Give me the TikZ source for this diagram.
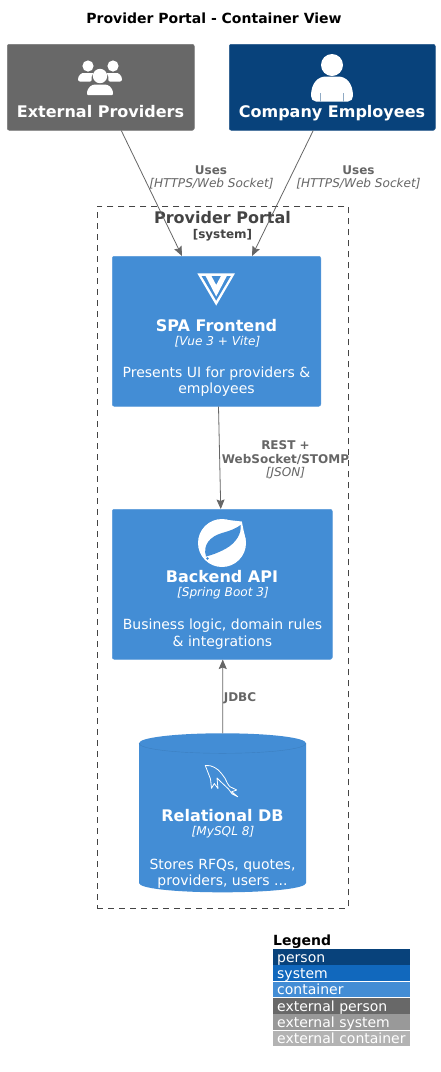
\documentclass[tikz,border=0pt]{standalone}
\usepackage{fontspec}
\setmainfont{DejaVu Sans}
\usetikzlibrary{arrows.meta}
\definecolor{personc}{HTML}{08427B}
\definecolor{systemc}{HTML}{1168BD}
\definecolor{containerc}{HTML}{438DD5}
\definecolor{extpersonc}{HTML}{686868}
\definecolor{extsystemc}{HTML}{999999}
\definecolor{extcontainerc}{HTML}{B3B3B3}
\definecolor{linec}{HTML}{666666}
\definecolor{boundc}{HTML}{444444}
\newcommand{\fs}[1]{\fontsize{#1}{#1}\selectfont}
\tikzset{
  txt/.style={inner sep=0pt,anchor=base,align=center},
  boxname/.style={txt,text=white,font=\fs{16}\bfseries},
  boxtech/.style={txt,text=white,font=\fs{12.1}\itshape},
  boxdesc/.style={txt,text=white,font=\fs{14}},
  linklabel/.style={txt,text=linec,font=\fs{12}\bfseries},
  linktech/.style={txt,text=linec,font=\fs{12.1}\itshape},
  card/.style={draw=#1!88!white,fill=#1,rounded corners=2pt,line width=0.5pt,inner sep=0pt,anchor=north west},
  link/.style={draw=linec,line width=0.8pt,-{Stealth[length=9.5pt,width=8pt,inset=1.5pt]}},
  legrow/.style={fill=#1,inner sep=0pt,anchor=north west,minimum width=137pt,minimum height=15.6pt},
  legtext/.style={inner sep=0pt,anchor=base west,text=white,font=\fs{14}},
}
\begin{document}
\begin{tikzpicture}[x=1pt,y=-1pt]
\useasboundingbox (0,0) rectangle (440,1072);
\fill[white] (0,0) rectangle (440,1072);

% title
\node[txt,font=\fs{14}\bfseries] (title) at (214,23) {Provider Portal - Container View};

% boundary
\node[draw=boundc,dash pattern=on 6pt off 5pt,line width=0.7pt,inner sep=0pt,anchor=north west,minimum width=251pt,minimum height=702pt] (portal) at (97,206) {};
\node[txt,text=boundc,font=\fs{16}\bfseries] (portaln) at (222.5,223) {Provider Portal};
\node[txt,text=boundc,font=\fs{12}\bfseries] (portalt) at (222.5,238) {[system]};

% persons
\node[card=extpersonc,minimum width=187pt,minimum height=86pt] (ext) at (7,44) {};
\node[card=personc,minimum width=206pt,minimum height=86pt] (emp) at (229,44) {};
\node[boxname] (extn) at (100.5,117) {External Providers};
\node[boxname] (empn) at (332,117) {Company Employees};

% group icon
\fill[white] (88,66) circle (5.6) (113,66) circle (5.6) (100,76) circle (7.2);
\fill[white,rounded corners=2pt] (78,81.5) .. controls (78,75) and (82,73) .. (85,73) -- (91,73) .. controls (92.5,73) and (92.8,74) .. (92.3,75) .. controls (91.5,77) and (91.5,79) .. (92,81.5) -- cycle;
\fill[white,rounded corners=2pt] (122,81.5) .. controls (122,75) and (118,73) .. (115,73) -- (109,73) .. controls (107.5,73) and (107.2,74) .. (107.7,75) .. controls (108.5,77) and (108.5,79) .. (108,81.5) -- cycle;
\fill[white,rounded corners=1pt] (87,95) .. controls (87,87) and (92,84.5) .. (96,84.5) -- (104,84.5) .. controls (108,84.5) and (113,87) .. (113,95) -- cycle;

% person icon
\fill[white] (332,65) circle (11);
\fill[white] (311,96) .. controls (311,83) and (318,76.5) .. (326,76.5) -- (338,76.5) .. controls (346,76.5) and (353,83) .. (353,96) .. controls (353,99) and (351,101.5) .. (348,101.5) -- (316,101.5) .. controls (313,101.5) and (311,99) .. (311,96) -- cycle;
\draw[personc!45!white,line width=0.6pt] (320.5,93) -- (320.5,101.5) (343,93) -- (343,101.5);

% containers
\node[card=containerc,minimum width=208.5pt,minimum height=150pt] (spa) at (112,256) {};
\node[card=containerc,minimum width=220pt,minimum height=150pt] (api) at (112,509) {};

% vue icon
\fill[white] (197.3,273.3) -- (235,273.3) -- (216.2,305.6) -- cycle;
\fill[containerc] (201.6,276) -- (230.8,276) -- (216.2,300.6) -- cycle;
\fill[white] (205.6,276) -- (211.4,276) -- (216.2,285) -- (221,276) -- (226.8,276) -- (216.2,296.5) -- cycle;

\node[boxname] (span) at (216.5,331) {SPA Frontend};
\node[boxtech] (spat) at (217.5,345) {[Vue 3 + Vite]};
\node[boxdesc] (spad1) at (216.5,377) {Presents UI for providers \&};
\node[boxdesc] (spad2) at (216.5,393) {employees};

% spring icon
\fill[white] (222,543) circle (24);
\fill[white] (228,520) -- (241.8,521.5) -- (245.8,541) -- cycle;
\fill[containerc] (206,556.5) .. controls (202.5,545) and (210,536.5) .. (222,533) .. controls (231,530.5) and (237,528) .. (240.5,525) .. controls (242,533) and (236,543) .. (226,548.5) .. controls (219,552.5) and (212,555) .. (206,556.5) -- cycle;
\fill[containerc] (207.5,558.5) circle (1.4);

\node[boxname] (apin) at (222,582) {Backend API};
\node[boxtech] (apit) at (223,596) {[Spring Boot 3]};
\node[boxdesc] (apid1) at (222.5,629) {Business logic, domain rules};
\node[boxdesc] (apid2) at (222.5,646) {\& integrations};

% database
\fill[containerc] (139,743.3) .. controls (139,737.5) and (176,733.3) .. (222.5,733.3) .. controls (269,733.3) and (306,737.5) .. (306,743.3) -- (306,883) .. controls (306,888.5) and (269,892.3) .. (222.5,892.3) .. controls (176,892.3) and (139,888.5) .. (139,883) -- cycle;
\draw[containerc!90!black,line width=0.4pt] (139,743.3) .. controls (139,749) and (176,753.3) .. (222.5,753.3) .. controls (269,753.3) and (306,749) .. (306,743.3);
\node[inner sep=0pt,anchor=north west,minimum width=167pt,minimum height=159pt] (db) at (139,733.3) {};
\draw[white,line width=0.8pt,line join=round] (205.3,765.5) -- (210,765.7) .. controls (214,767) and (216,768) .. (218.3,770) .. controls (221,773) and (223,775) .. (225,778.3) .. controls (226.5,781.5) and (228,785) .. (230,786.7) -- (236.7,790) -- (231.7,791.7) -- (237.7,796.7) -- (232,793.8) -- (228.5,789) .. controls (226,786.5) and (222,783) .. (219,780) -- (217,778) -- (218,788.5) -- (214.3,783.5) -- (211.5,788.3) -- (210.5,779) -- cycle;
\node[boxname] (dbn) at (222.5,821) {Relational DB};
\node[boxtech] (dbt) at (223,835) {[MySQL 8]};
\node[boxdesc] (dbd1) at (222.5,869) {Stores RFQs, quotes,};
\node[boxdesc] (dbd2) at (222.5,885) {providers, users ...};

% connectors
\draw[link] ([xshift=20.5pt]ext.south) -- ([xshift=-34.5pt]spa.north);
\draw[link] ([xshift=-19pt]emp.south) -- ([xshift=35.5pt]spa.north);
\draw[link] ([xshift=2pt]spa.south) -- ([xshift=-1.5pt]api.north);
\draw[link] (db.north) -- ([xshift=0.5pt]api.south);

% labels
\node[linklabel] (u1) at (211,174) {Uses};
\node[linktech] (u1t) at (211.5,187) {[HTTPS/Web Socket]};
\node[linklabel] (u2) at (358.5,174) {Uses};
\node[linktech] (u2t) at (358.5,187) {[HTTPS/Web Socket]};
\node[linklabel] (r1) at (285.5,449) {REST +};
\node[linklabel] (r2) at (285.5,463) {WebSocket/STOMP};
\node[linktech] (r3) at (285.5,476) {[JSON]};
\node[linklabel] (jdbc) at (240,701) {JDBC};

% legend
\node[inner sep=0pt,anchor=base west,font=\fs{14}\bfseries] (legt) at (273,945) {Legend};
\node[legrow=personc] (l1) at (273,949) {};
\node[legrow=systemc] (l2) at (273,965.2) {};
\node[legrow=containerc] (l3) at (273,981.6) {};
\node[legrow=extpersonc] (l4) at (273,997.8) {};
\node[legrow=extsystemc] (l5) at (273,1014) {};
\node[legrow=extcontainerc] (l6) at (273,1030.4) {};
\node[legtext] (lt1) at (277,962) {person};
\node[legtext] (lt2) at (277,978) {system};
\node[legtext] (lt3) at (277,994) {container};
\node[legtext] (lt4) at (277,1011) {external person};
\node[legtext] (lt5) at (277,1027) {external system};
\node[legtext] (lt6) at (277,1043) {external container};
\end{tikzpicture}
\end{document}
